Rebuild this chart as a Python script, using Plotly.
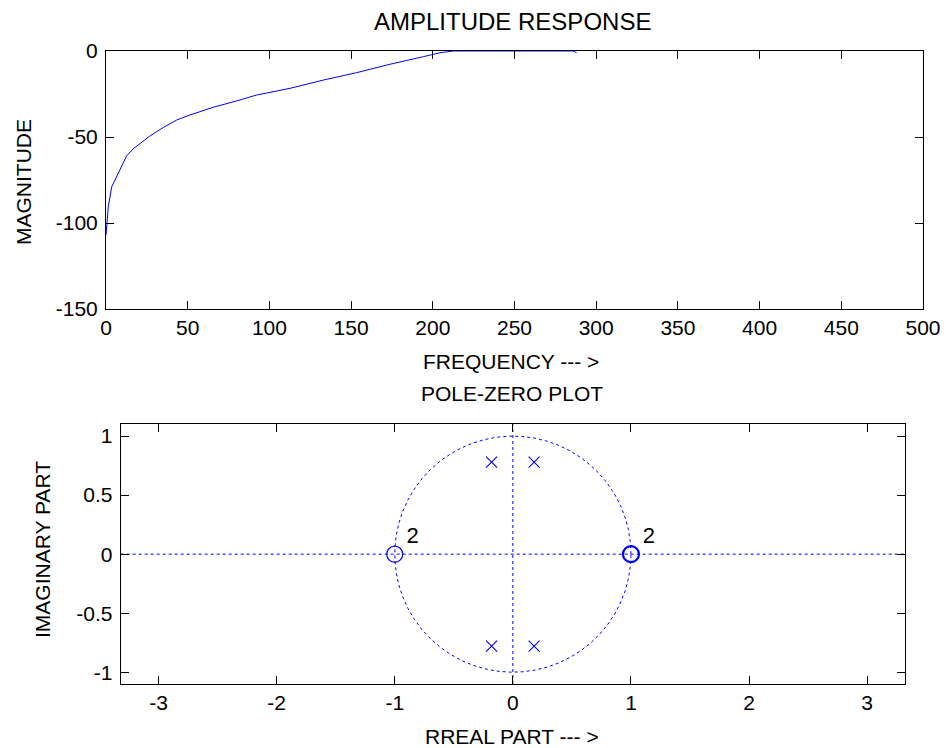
import numpy as np
import plotly.graph_objects as go

# ---------------- data ----------------
freq = [0, 1.4, 3.5, 6.5, 9.5, 12.6, 16.5, 20.8, 26.9, 35, 43.3, 51.4, 65.7, 80,
        92.2, 112.6, 133, 153.4, 173.8, 194.2, 204.4, 212.6, 230, 250, 270, 286, 288]
magnitude = [-107, -90.5, -79, -73, -66.5, -61, -57, -53.7, -49.4, -44.5, -40.1,
             -37.2, -32.7, -29, -25.6, -21.7, -16.9, -12.6, -7.7, -3.3, -1, 0, 0,
             0, 0, 0, -1]

zeros_re = [-1, 1]
zeros_im = [0, 0]
zero_mult = ["2", "2"]
poles_re = [-0.18, 0.18, -0.18, 0.18]
poles_im = [0.78, 0.78, -0.78, -0.78]

top_xticks = [0, 50, 100, 150, 200, 250, 300, 350, 400, 450, 500]
top_yticks = [-150, -100, -50, 0]
top_yticktext = ["-150", "-100", "-50", "0"]
bot_xticks = [-3, -2, -1, 0, 1, 2, 3]
bot_xticktext = ["-3", "-2", "-1", "0", "1", "2", "3"]
bot_yticks = [-1, -0.5, 0, 0.5, 1]
bot_yticktext = ["-1", "-0.5", "0", "0.5", "1"]

X_RANGE = [-3.32, 3.32]
Y_RANGE = [-1.1, 1.1]

# ---------------- figure ----------------
W, H = 946, 748
FONT = "Liberation Sans, Arial, sans-serif"
BLUE = "#0000FF"

fig = go.Figure()

# amplitude response
fig.add_trace(go.Scatter(x=freq, y=magnitude, mode="lines",
                         line=dict(color=BLUE, width=1), xaxis="x", yaxis="y",
                         hoverinfo="skip"))

# unit circle (coarse polygon, like MATLAB zplane)
theta = np.linspace(0, 2 * np.pi, 60)
fig.add_trace(go.Scatter(x=np.cos(theta), y=np.sin(theta), mode="lines",
                         line=dict(color=BLUE, width=1, dash="dot"),
                         xaxis="x2", yaxis="y2", hoverinfo="skip"))
# real / imaginary axis lines
fig.add_trace(go.Scatter(x=X_RANGE, y=[0, 0], mode="lines",
                         line=dict(color=BLUE, width=1, dash="dot"),
                         xaxis="x2", yaxis="y2", hoverinfo="skip"))
fig.add_trace(go.Scatter(x=[0, 0], y=Y_RANGE, mode="lines",
                         line=dict(color=BLUE, width=1, dash="dot"),
                         xaxis="x2", yaxis="y2", hoverinfo="skip"))
# zeros
fig.add_trace(go.Scatter(x=zeros_re, y=zeros_im, mode="markers",
                         marker=dict(symbol="circle-open", size=16, color=BLUE,
                                     line=dict(color=BLUE, width=[1.2, 2.2])),
                         xaxis="x2", yaxis="y2", hoverinfo="skip"))
# poles
fig.add_trace(go.Scatter(x=poles_re, y=poles_im, mode="markers",
                         marker=dict(symbol="x-thin-open", size=11, color=BLUE,
                                     line=dict(color=BLUE, width=1.1)),
                         xaxis="x2", yaxis="y2", hoverinfo="skip"))
# multiplicity labels
fig.add_trace(go.Scatter(x=[z + 0.1 for z in zeros_re],
                         y=[0.14 for _ in zeros_im], mode="text",
                         text=zero_mult, textposition="middle right",
                         textfont=dict(size=22, color="black", family=FONT),
                         xaxis="x2", yaxis="y2", hoverinfo="skip"))

axis_common = dict(showgrid=False, zeroline=False, showline=True,
                   linecolor="black", linewidth=1, mirror="allticks",
                   ticks="inside", ticklen=8, tickcolor="black", tickwidth=1,
                   automargin=False,
                   tickfont=dict(size=21, color="black", family=FONT))

fig.update_layout(
    width=W, height=H,
    autosize=False,
    margin=dict(l=0, r=0, t=0, b=0, pad=0, autoexpand=False),
    paper_bgcolor="white", plot_bgcolor="white",
    showlegend=False,
    font=dict(family=FONT, color="black"),
    xaxis=dict(domain=[106 / W, 923 / W], range=[0, 500], tickvals=top_xticks,
               anchor="y", **axis_common),
    yaxis=dict(domain=[1 - 309 / H, 1 - 51 / H], range=[-150, 0],
               tickvals=top_yticks, ticktext=top_yticktext, anchor="x",
               ticklabelstandoff=3, **axis_common),
    xaxis2=dict(domain=[120.7 / W, 905 / W], range=X_RANGE, tickvals=bot_xticks,
                ticktext=bot_xticktext, anchor="y2", **axis_common),
    yaxis2=dict(domain=[1 - 684 / H, 1 - 424.3 / H], range=Y_RANGE,
                tickvals=bot_yticks, ticktext=bot_yticktext, anchor="x2",
                ticklabelstandoff=3, **axis_common),
)

def label(text, x, y, angle=0, size=21):
    fig.add_annotation(text=text, x=x / W, y=1 - y / H, xref="paper", yref="paper",
                       showarrow=False, textangle=angle, xanchor="center",
                       yanchor="middle", font=dict(size=size, color="black",
                                                   family=FONT))

label("AMPLITUDE RESPONSE", 512, 21, size=24)
label("FREQUENCY --- >", 511, 362)
label("MAGNITUDE", 24, 182, angle=-90)
label("POLE-ZERO PLOT", 512, 393)
label("IMAGINARY PART", 42, 550, angle=-90)
label("RREAL PART --- >", 512, 736)

fig.write_html("out.html",
               config={"responsive": False, "displayModeBar": False},
               post_script="document.body.style.margin='0';"
                           "document.body.style.padding='0';")
